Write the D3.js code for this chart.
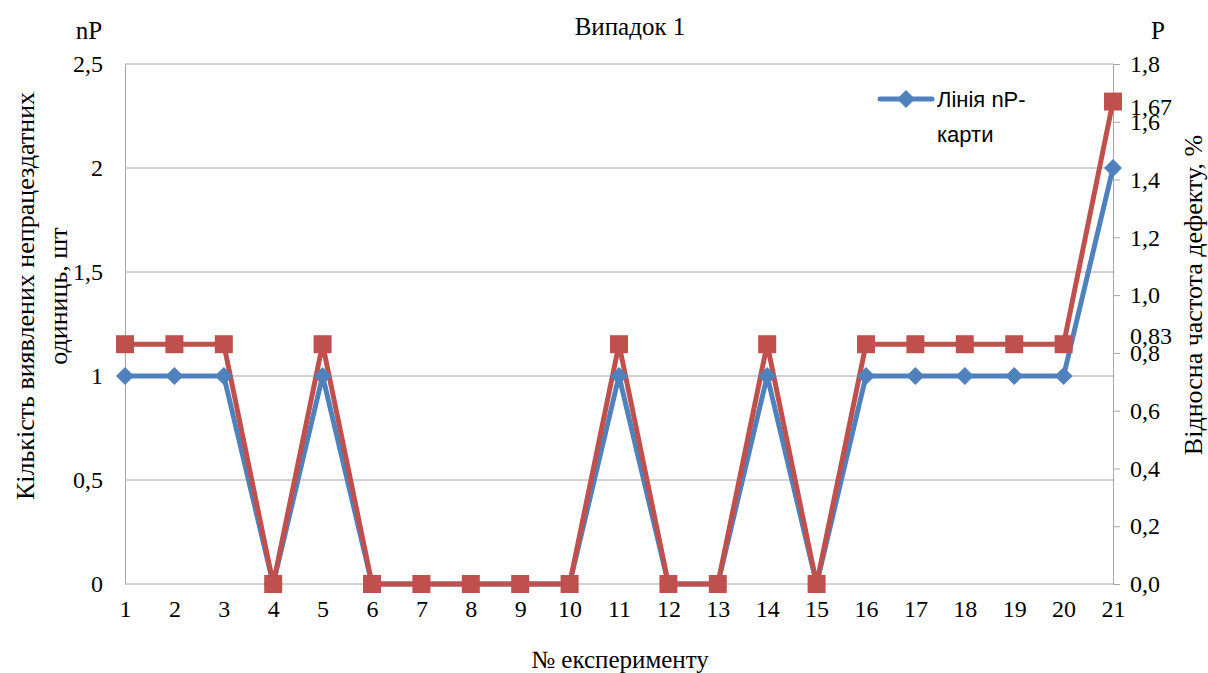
<!DOCTYPE html>
<html><head><meta charset="utf-8">
<script src="https://cdn.jsdelivr.net/npm/d3@7"></script>
<style>body{margin:0;background:#fff;} svg{display:block;}</style>
</head><body>
<svg id="c" width="1208" height="673"></svg>
<script>
const experiments = d3.range(1, 22);
const npValues = [1,1,1,0,1,0,0,0,0,0,1,0,0,1,0,1,1,1,1,1,2];
const pValues = [0.83,0.83,0.83,0,0.83,0,0,0,0,0,0.83,0,0,0.83,0,0.83,0.83,0.83,0.83,0.83,1.67];
const leftTicks = [0,0.5,1,1.5,2,2.5];
const rightTicks = [0,0.2,0.4,0.6,0.8,1.0,1.2,1.4,1.6,1.8];
const rightExtra = [0.83, 1.67];

const svg = d3.select("#c");
const L = 125, R = 1113, T = 64, B = 584;
const serifFam = "'Liberation Serif', 'Times New Roman', Tinos, 'DejaVu Serif', serif";
const sans = "'Liberation Sans',Arial,sans-serif";
const blue = "#4F81BD", red = "#C0504D";

const x = d3.scalePoint().domain(experiments).range([L, R]);
const yL = d3.scaleLinear().domain([0, 2.5]).range([B, T]);
const yR = d3.scaleLinear().domain([0, 1.8]).range([B, T]);
const fmt1 = v => (v === 0 ? "0" : String(v).replace(".", ","));

function serifText(sel, size) {
  sel.attr("font-family", null).style("font-family", serifFam)
    .style("font-size", (size || 24) + "px").attr("fill", "#000");
  return sel;
}

// gridlines
svg.append("g").selectAll("line").data(leftTicks).join("line")
  .attr("x1", L).attr("x2", R).attr("y1", d => yL(d)).attr("y2", d => yL(d))
  .attr("stroke", "#a6a6a6").attr("stroke-width", 1);

// left axis
const gl = svg.append("g").attr("transform", `translate(${L},0)`)
  .call(d3.axisLeft(yL).tickValues(leftTicks).tickSize(0).tickPadding(22).tickFormat(fmt1));
gl.attr("font-family", null);
gl.select(".domain").attr("stroke", "#a6a6a6");
serifText(gl.selectAll("text"));

// right axis
const gr = svg.append("g").attr("transform", `translate(${R},0)`)
  .call(d3.axisRight(yR).tickValues(rightTicks).tickSize(7).tickPadding(10)
    .tickFormat(d => d3.format(".1f")(d).replace(".", ",")));
gr.attr("font-family", null);
gr.select(".domain").attr("stroke", "#a6a6a6");
gr.selectAll(".tick line").attr("stroke", "#a6a6a6");
serifText(gr.selectAll("text"));
// extra labels
const extraOffset = {0.83: -9, 1.67: 5};
serifText(svg.append("g").selectAll("text").data(rightExtra).join("text")
  .attr("x", R + 17).attr("y", d => yR(d) + extraOffset[d]).attr("dy", "0.35em")
  .text(d => String(d).replace(".", ",")));

// x axis labels
const gx = svg.append("g").attr("transform", `translate(0,${B})`)
  .call(d3.axisBottom(x).tickSize(0).tickPadding(16));
gx.attr("font-family", null);
gx.select(".domain").remove();
serifText(gx.selectAll("text"));

// lines
const lineNP = d3.line().x((d, i) => x(experiments[i])).y(d => yL(d));
const lineP = d3.line().x((d, i) => x(experiments[i])).y(d => yR(d));
svg.append("path").datum(npValues).attr("d", lineNP)
  .attr("fill", "none").attr("stroke", blue).attr("stroke-width", 5).attr("stroke-linejoin", "round");
svg.append("path").datum(pValues).attr("d", lineP)
  .attr("fill", "none").attr("stroke", red).attr("stroke-width", 5).attr("stroke-linejoin", "round");

// markers
svg.append("g").selectAll("path").data(npValues).join("path")
  .attr("transform", (d, i) => `translate(${x(experiments[i])},${yL(d)})`)
  .attr("d", "M0,-9L9,0L0,9L-9,0Z").attr("fill", blue);
svg.append("g").selectAll("rect").data(pValues).join("rect")
  .attr("x", (d, i) => x(experiments[i]) - 9).attr("y", d => yR(d) - 9)
  .attr("width", 18).attr("height", 18).attr("fill", red);

// titles
serifText(svg.append("text").attr("x", 630).attr("y", 35).attr("text-anchor", "middle").text("Випадок 1"), 25);
serifText(svg.append("text").attr("x", 89).attr("y", 39).attr("text-anchor", "middle").text("nP"), 25);
serifText(svg.append("text").attr("x", 1158).attr("y", 39).attr("text-anchor", "middle").text("P"), 25);
serifText(svg.append("text").attr("x", 620).attr("y", 668).attr("text-anchor", "middle").text("№ експерименту"), 25);

const lt = serifText(svg.append("text").attr("transform", "translate(0,296) rotate(-90)")
  .attr("text-anchor", "middle"), 26);
lt.append("tspan").attr("x", 0).attr("y", 34).text("Кількість виявлених непрацездатних");
lt.append("tspan").attr("x", 0).attr("y", 67).text("одиниць, шт");

serifText(svg.append("text").attr("transform", "translate(1202,295) rotate(-90)")
  .attr("text-anchor", "middle").text("Відносна частота дефекту, %"), 26);

// legend
const lg = svg.append("g");
lg.append("line").attr("x1", 880).attr("x2", 932).attr("y1", 99).attr("y2", 99)
  .attr("stroke", blue).attr("stroke-width", 5).attr("stroke-linecap", "round");
lg.append("path").attr("transform", "translate(906,99)").attr("d", "M0,-9L9,0L0,9L-9,0Z").attr("fill", blue);
lg.append("text").attr("x", 937).attr("y", 107).attr("font-family", sans).attr("font-size", 22).text("Лінія nP-");
lg.append("text").attr("x", 937).attr("y", 142).attr("font-family", sans).attr("font-size", 22).text("карти");
</script>
</body></html>
